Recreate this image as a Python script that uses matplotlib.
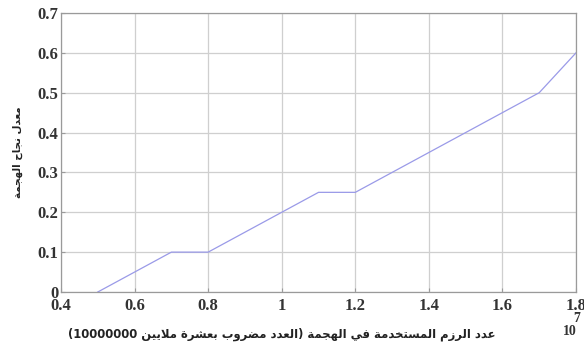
import matplotlib
matplotlib.use("Agg")
import matplotlib.pyplot as plt

# ==========================
# Data
# ==========================

packets = [0.5, 0.7, 0.8, 1.1, 1.2, 1.7, 1.8]        # x 10^7
success_rate = [0.0, 0.1, 0.1, 0.25, 0.25, 0.5, 0.6]

x_ticks = [0.4, 0.6, 0.8, 1.0, 1.2, 1.4, 1.6, 1.8]
x_tick_labels = ["0.4", "0.6", "0.8", "1", "1.2", "1.4", "1.6", "1.8"]
y_ticks = [0, 0.1, 0.2, 0.3, 0.4, 0.5, 0.6, 0.7]
y_tick_labels = ["0", "0.1", "0.2", "0.3", "0.4", "0.5", "0.6", "0.7"]

x_label = "عدد الرزم المستخدمة في الهجمة (العدد مضروب بعشرة ملايين 10000000)"
y_label = "معدل نجاح الهجمة"

# ==========================
# Arabic shaping (no bidi support in matplotlib)
# ==========================

# isolated, final, initial, medial
FORMS = {
    "ا": (0xFE8D, 0xFE8E, None, None),
    "ب": (0xFE8F, 0xFE90, 0xFE91, 0xFE92),
    "ة": (0xFE93, 0xFE94, None, None),
    "ت": (0xFE95, 0xFE96, 0xFE97, 0xFE98),
    "ج": (0xFE9D, 0xFE9E, 0xFE9F, 0xFEA0),
    "ح": (0xFEA1, 0xFEA2, 0xFEA3, 0xFEA4),
    "خ": (0xFEA5, 0xFEA6, 0xFEA7, 0xFEA8),
    "د": (0xFEA9, 0xFEAA, None, None),
    "ر": (0xFEAD, 0xFEAE, None, None),
    "ز": (0xFEAF, 0xFEB0, None, None),
    "س": (0xFEB1, 0xFEB2, 0xFEB3, 0xFEB4),
    "ش": (0xFEB5, 0xFEB6, 0xFEB7, 0xFEB8),
    "ض": (0xFEBD, 0xFEBE, 0xFEBF, 0xFEC0),
    "ع": (0xFEC9, 0xFECA, 0xFECB, 0xFECC),
    "ف": (0xFED1, 0xFED2, 0xFED3, 0xFED4),
    "ل": (0xFEDD, 0xFEDE, 0xFEDF, 0xFEE0),
    "م": (0xFEE1, 0xFEE2, 0xFEE3, 0xFEE4),
    "ن": (0xFEE5, 0xFEE6, 0xFEE7, 0xFEE8),
    "ه": (0xFEE9, 0xFEEA, 0xFEEB, 0xFEEC),
    "و": (0xFEED, 0xFEEE, None, None),
    "ي": (0xFEF1, 0xFEF2, 0xFEF3, 0xFEF4),
    "لا": (0xFEFB, 0xFEFC, None, None),
}


def dual(ch):
    return ch in FORMS and FORMS[ch][2] is not None


def shape(text):
    # merge lam-alef into one unit
    units = []
    i = 0
    while i < len(text):
        if text[i] == "ل" and i + 1 < len(text) and text[i + 1] == "ا":
            units.append("لا")
            i += 2
        else:
            units.append(text[i])
            i += 1

    out = []
    for i, u in enumerate(units):
        if u not in FORMS:
            out.append(u)
            continue
        prev = units[i - 1] if i > 0 else ""
        nxt = units[i + 1] if i + 1 < len(units) else ""
        join_prev = dual(prev[-1]) if prev else False
        join_next = dual(u) and nxt in FORMS
        iso, fin, ini, med = FORMS[u]
        if join_prev and join_next:
            code = med
        elif join_prev:
            code = fin
        elif join_next:
            code = ini
        else:
            code = iso
        out.append(chr(code))

    # visual order: reverse, keep digit runs left to right, mirror brackets
    rev = "".join(out)[::-1]
    result = ""
    run = ""
    for ch in rev:
        if ch.isdigit():
            run += ch
            continue
        if run:
            result += run[::-1]
            run = ""
        result += {"(": ")", ")": "("}.get(ch, ch)
    result += run[::-1]
    return result


# ==========================
# Plot
# ==========================

plt.rcParams["font.family"] = ["Liberation Serif", "DejaVu Sans"]

fig = plt.figure(figsize=(5.84, 3.55), dpi=100)
ax = fig.add_axes([0.1045, 0.1775, 0.8818, 0.7859])

ax.plot(packets, success_rate, color="#9a9ae8", linewidth=0.9)

ax.set_xlim(0.4, 1.8)
ax.set_ylim(0, 0.7)
ax.set_xticks(x_ticks)
ax.set_xticklabels(x_tick_labels)
ax.set_yticks(y_ticks)
ax.set_yticklabels(y_tick_labels)

ax.grid(True, color="#cfcfcf", linewidth=0.9)
ax.set_axisbelow(True)
for s in ax.spines.values():
    s.set_color("#9a9a9a")
    s.set_linewidth(0.9)

ax.tick_params(direction="in", length=3, color="#9a9a9a",
               labelsize=12, labelcolor="#333333")
ax.tick_params(axis="x", pad=4)
ax.tick_params(axis="y", pad=2)
for lbl in ax.get_xticklabels() + ax.get_yticklabels():
    lbl.set_fontweight("bold")

ax.set_xlabel(shape(x_label), family=["DejaVu Sans"], fontsize=8.4,
              fontweight="bold", color="#222222")
ax.xaxis.set_label_coords(0.429, -0.128)
ax.set_ylabel(shape(y_label), family=["DejaVu Sans"], fontsize=7.5,
              fontweight="bold", color="#222222")
ax.yaxis.set_label_coords(-0.074, 0.5)

# exponent under the last x tick
fig.text(0.988, 0.104, "7", fontsize=10, fontweight="bold",
         color="#333333", ha="center", va="center")
fig.text(0.975, 0.065, "10", fontsize=10, fontweight="bold",
         color="#333333", ha="center", va="center")

fig.savefig("out.png", dpi=100)
